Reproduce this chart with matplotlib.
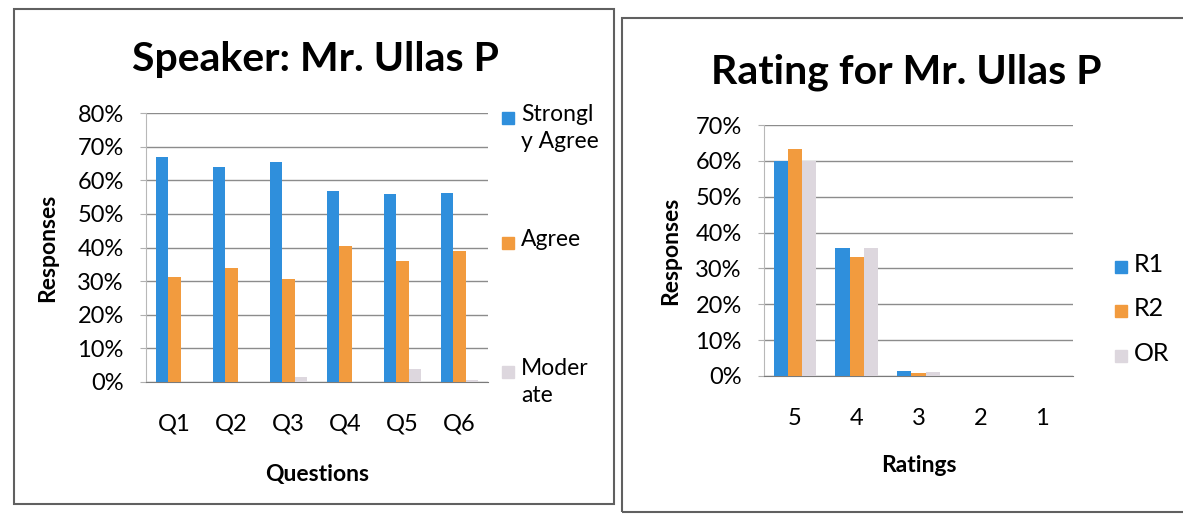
# Speaker feedback charts: question responses and ratings

import numpy as np
import matplotlib
matplotlib.use("Agg")
import matplotlib.pyplot as plt
from matplotlib.patches import Rectangle
from matplotlib.ticker import PercentFormatter

plt.rcParams['font.family'] = ['Lato', 'DejaVu Sans']

questions = ["Q1", "Q2", "Q3", "Q4", "Q5", "Q6"]
strongly_agree = [67, 64, 65.5, 56.8, 56, 56.3]
agree = [31.3, 34, 30.5, 40.3, 36, 39]
moderate = [0, 0, 1.6, 0, 4, 0.5]
q_labels = ["Strongl\ny Agree", "Agree", "Moder\nate"]

ratings = ["5", "4", "3", "2", "1"]
r1 = [60, 35.8, 1.3, 0, 0]
r2 = [63.2, 33.2, 0.8, 0, 0]
overall = [60, 35.8, 1.0, 0, 0]
r_labels = ["R1", "R2", "OR"]

blue = "#2f8fdc"
orange = "#f29b3e"
grey = "#ddd7de"
colors = [blue, orange, grey]

fig = plt.figure(figsize=(11.83, 5.18), dpi=100)
W, H = 1183.0, 518.0

def px(x, y):
    # pixel (from top-left) -> figure fraction
    return x / W, 1 - y / H

def style_axes(ax, ymax):
    ax.set_ylim(0, ymax)
    ax.set_yticks(np.arange(0, ymax + 1, 10))
    ax.yaxis.set_major_formatter(PercentFormatter(decimals=0))
    ax.grid(True, axis="y", color="#8c8c8c", linewidth=1)
    ax.set_axisbelow(True)
    for s in ["top", "right"]:
        ax.spines[s].set_visible(False)
    ax.spines["left"].set_color("#b8b8b8")
    ax.spines["bottom"].set_color("#7a7a7a")
    ax.tick_params(axis="y", length=4, color="#b0b0b0", pad=12, labelsize=17)
    ax.tick_params(axis="x", length=0, labelsize=17)

def manual_legend(labels, ys, x, size, spacing):
    # ys: pixel y of square centres; x: pixel x of square left
    for lab, yy, c in zip(labels, ys, colors):
        fx, fy = px(x, yy)
        fig.patches.append(Rectangle((fx, fy - 6 / H), 12 / W, 12 / H,
                                     transform=fig.transFigure, color=c))
        tx, ty = px(x + 19, yy - 14)
        fig.text(tx, ty, lab, fontsize=size, va="top", ha="left",
                 linespacing=spacing)

# left chart
x0, y0 = px(146, 382)
ax1 = fig.add_axes([x0, y0, 342 / W, 269 / H])
ind = np.arange(len(questions))
w = 0.22
for i, (vals, c) in enumerate(zip([strongly_agree, agree, moderate], colors)):
    ax1.bar(ind + (i - 1) * w, vals, w, color=c, zorder=3)
ax1.set_xlim(-0.5, len(questions) - 0.5)
style_axes(ax1, 80)
ax1.set_xticks(ind, questions)
ax1.tick_params(axis="x", pad=23)
ax1.set_ylabel("Responses", fontsize=16.5, fontweight="bold", labelpad=14)
ax1.set_xlabel("Questions", fontsize=16.5, fontweight="bold", labelpad=21)
fig.text(*px(315, 60), "Speaker: Mr. Ullas P", fontsize=29.5,
         fontweight="bold", ha="center", va="center")
manual_legend(q_labels, [118, 243, 372], 502, 16.5, 1.35)

# right chart
x0, y0 = px(764, 376)
ax2 = fig.add_axes([x0, y0, 309 / W, 251 / H])
ind = np.arange(len(ratings))
w = 0.23
for i, (vals, c) in enumerate(zip([r1, r2, overall], colors)):
    ax2.bar(ind + (i - 1) * w, vals, w, color=c, zorder=3)
ax2.set_xlim(-0.5, len(ratings) - 0.5)
style_axes(ax2, 70)
ax2.set_xticks(ind, ratings)
ax2.tick_params(axis="x", pad=23)
ax2.set_ylabel("Responses", fontsize=16.5, fontweight="bold", labelpad=10)
ax2.set_xlabel("Ratings", fontsize=16.5, fontweight="bold", labelpad=19)
fig.text(*px(906, 72), "Rating for Mr. Ullas P", fontsize=29.5,
         fontweight="bold", ha="center", va="center")
manual_legend(r_labels, [267, 311, 356], 1115, 18, 1.2)

# panel borders (the two chart boxes)
for (l, t, r, b) in [(14, 9, 614, 504), (622, 18, 1190, 512)]:
    fl, fb = px(l, b)
    fig.patches.append(Rectangle((fl, fb), (r - l) / W, (b - t) / H,
                                 transform=fig.transFigure, fill=False,
                                 edgecolor="#606060", linewidth=1.5))

fig.savefig("out.png", dpi=100)
